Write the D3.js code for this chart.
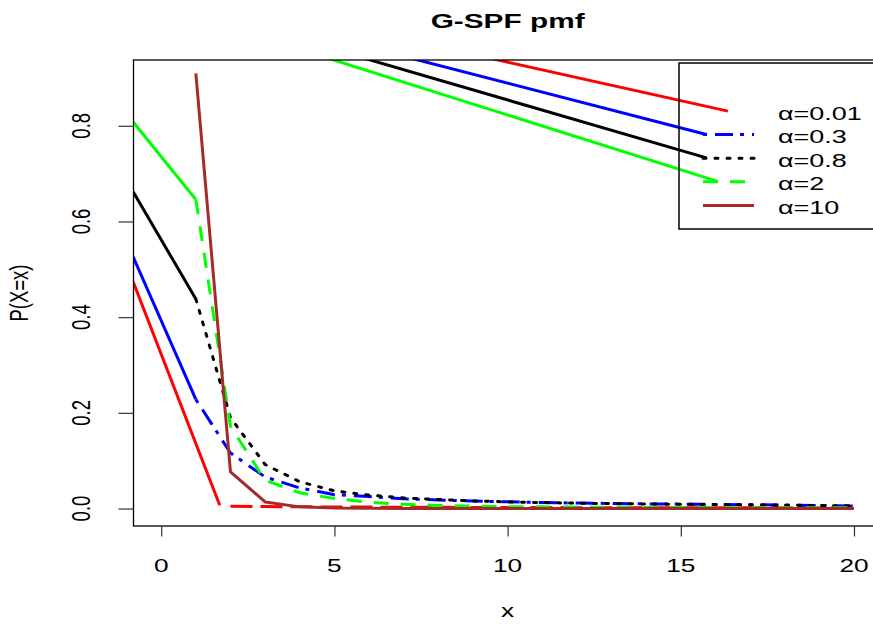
<!DOCTYPE html>
<html lang="en">
<head>
<meta charset="utf-8">
<title>G-SPF pmf</title>
<script src="https://cdn.jsdelivr.net/npm/d3@7/dist/d3.min.js"></script>
<style>
  body { margin: 0; background: #fff; }
  svg { display: block; }
  text { font-family: "Liberation Sans", Arial, Helvetica, sans-serif; fill: #000; }
</style>
</head>
<body>
<svg id="chart" width="873" height="630"></svg>
<script>
// ---- data ----
var alphas = ["0.01", "0.3", "0.8", "2", "10"];
var colors = ["#ff0000", "#0000ff", "#000000", "#00ff00", "#a52a2a"];
var dashes = ["22,8", "4,8,18,7", "3,9", "15,12", null];

var xTicks = [0, 5, 10, 15, 20];
var yTicks = [0, 0.2, 0.4, 0.6, 0.8];

// body of each curve, x = 1..20 (red starts at x = 2)
var xRed = d3.range(2, 21);
var xAll = d3.range(1, 21);
var pRed   = [0.0048, 0.0042, 0.0037, 0.0033, 0.003, 0.0027, 0.0025, 0.0023, 0.0021, 0.002, 0.0019, 0.0018, 0.0017, 0.0016, 0.0015, 0.0014, 0.0014, 0.0013, 0.0012];
var pBlue  = [0.228, 0.116, 0.066, 0.043, 0.029, 0.025, 0.0205, 0.018, 0.0155, 0.014, 0.0125, 0.0115, 0.0105, 0.0098, 0.0092, 0.0086, 0.008, 0.0072, 0.0063, 0.0055];
var pBlack = [0.438, 0.19, 0.092, 0.056, 0.037, 0.028, 0.022, 0.019, 0.016, 0.014, 0.0125, 0.0112, 0.0103, 0.0096, 0.009, 0.0084, 0.0078, 0.007, 0.0062, 0.0055];
var pGreen = [0.646, 0.172, 0.059, 0.033, 0.021, 0.013, 0.009, 0.0065, 0.005, 0.004, 0.0035, 0.003, 0.0027, 0.0024, 0.0022, 0.002, 0.0018, 0.0016, 0.0015, 0.0014];
var pBrown = [0.9095, 0.0765, 0.0138, 0.0035, 0.0012, 0.0005, 0.0003, 0.0002, 0.0001, 0.0001, 0.0001, 0, 0, 0, 0, 0, 0, 0, 0, 0];

// solid heads coming in from the left edge
var headX0 = -0.81;
var headY0 = [0.474, 0.526, 0.662, 0.808];
var redHeadEnd = [1.69, 0.0069];

// solid lines from the top edge down to the legend
var connTopX = [8.955, 6.741, 5.442, 4.431];
var connEndX = [16.36, 15.74, 15.74, 16.04];
var connEndY = [0.8306, 0.7819, 0.733, 0.6843];

// ---- layout ----
var svg = d3.select("#chart");
var sx = 1.42; // horizontal stretch of the text
var x = d3.scaleLinear().domain([-0.8, 20.8]).range([133.5, 881.7]);
var y = d3.scaleLinear().domain([-0.0365, 0.9375]).range([526, 60]);

svg.append("defs").append("clipPath").attr("id", "clip")
  .append("rect").attr("x", x(-0.8)).attr("y", y(0.9375))
  .attr("width", x(20.8) - x(-0.8)).attr("height", y(-0.0365) - y(0.9375));

var series = [
  { xs: xRed, ys: pRed },
  { xs: xAll, ys: pBlue },
  { xs: xAll, ys: pBlack },
  { xs: xAll, ys: pGreen },
  { xs: xAll, ys: pBrown }
];

var line = d3.line().x(function (d) { return x(d[0]); }).y(function (d) { return y(d[1]); });
var plot = svg.append("g").attr("clip-path", "url(#clip)")
  .attr("fill", "none").attr("stroke-width", 3);

series.forEach(function (s, i) {
  var pts = s.xs.map(function (v, k) { return [v, s.ys[k]]; });
  if (i < 4) {
    var end = i === 0 ? redHeadEnd : pts[0];
    plot.append("path").attr("d", line([[headX0, headY0[i]], end]))
      .attr("stroke", colors[i]);
    plot.append("path").attr("d", line([[connTopX[i], 0.95], [connEndX[i], connEndY[i]]]))
      .attr("stroke", colors[i]);
  }
  plot.append("path").attr("d", line(pts))
    .attr("stroke", colors[i])
    .attr("stroke-dasharray", dashes[i])
    .attr("stroke-linecap", i === 2 ? "round" : "butt")
    .attr("stroke-linejoin", "round");
});

// frame
svg.append("rect").attr("x", x(-0.8)).attr("y", y(0.9375))
  .attr("width", x(20.8) - x(-0.8)).attr("height", y(-0.0365) - y(0.9375))
  .attr("fill", "none").attr("stroke", "#000").attr("stroke-width", 1.3);

// axes
svg.append("g").attr("transform", "translate(0," + y(-0.0365) + ")")
  .call(d3.axisBottom(x).tickValues(xTicks).tickSize(10.5).tickFormat(""));
svg.append("g").attr("transform", "translate(" + x(-0.8) + ",0)")
  .call(d3.axisLeft(y).tickValues(yTicks).tickSize(15).tickFormat(""));
svg.selectAll(".domain").remove();
svg.selectAll(".tick line").attr("stroke", "#333").attr("stroke-width", 1.2);

xTicks.forEach(function (t) {
  svg.append("text").attr("text-anchor", "middle").attr("font-size", 18.5)
    .attr("transform", "translate(" + x(t) + ",572) scale(" + sx + ",1)")
    .text(t);
});
yTicks.forEach(function (t) {
  svg.append("text").attr("text-anchor", "middle").attr("font-size", 18.5)
    .attr("transform", "translate(90," + y(t) + ") scale(" + sx + ",1) rotate(-90)")
    .text(t.toFixed(1));
});

// titles
svg.append("text").attr("text-anchor", "middle").attr("font-size", 21).attr("font-weight", "bold")
  .attr("transform", "translate(" + (x(-0.8) + x(20.8)) / 2 + ",28) scale(" + sx + ",1)")
  .text("G-SPF pmf");
svg.append("text").attr("text-anchor", "middle").attr("font-size", 18.5)
  .attr("transform", "translate(" + (x(-0.8) + x(20.8)) / 2 + ",617) scale(" + sx + ",1)")
  .text("x");
svg.append("text").attr("text-anchor", "middle").attr("font-size", 18.5)
  .attr("transform", "translate(28," + (y(-0.0365) + y(0.9375)) / 2 + ") scale(" + sx + ",1) rotate(-90)")
  .text("P(X=x)");

// legend
var legend = svg.append("g");
legend.append("rect").attr("x", 679).attr("y", 63).attr("width", 260).attr("height", 166)
  .attr("fill", "none").attr("stroke", "#000").attr("stroke-width", 1.5);
alphas.forEach(function (a, i) {
  var ly = 111 + i * 23.6;
  if (i > 0) {
    legend.append("line").attr("x1", 703).attr("x2", 754).attr("y1", ly).attr("y2", ly)
      .attr("stroke", colors[i]).attr("stroke-width", 3)
      .attr("stroke-dasharray", dashes[i])
      .attr("stroke-linecap", i === 2 ? "round" : "butt");
  }
  legend.append("text").attr("font-size", 19)
    .attr("transform", "translate(778," + (ly + 8.5) + ") scale(" + sx + ",1)")
    .text("\u03b1=" + a);
});
</script>
</body>
</html>
